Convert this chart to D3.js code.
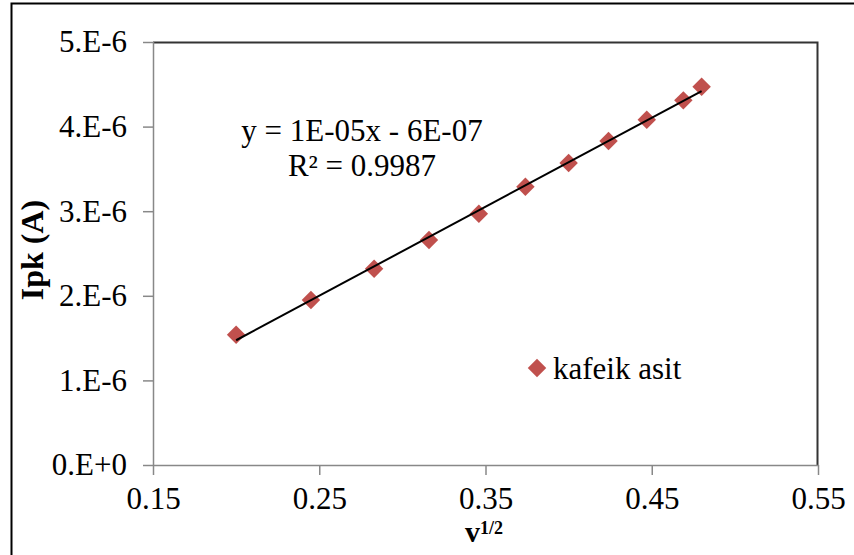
<!DOCTYPE html>
<html>
<head>
<meta charset="utf-8">
<script src="https://cdn.jsdelivr.net/npm/d3@7"></script>
<style>
  body { margin: 0; background: #fff; }
</style>
</head>
<body>
<div id="chart-wrap"></div>
<script>
// data
var xValues = [0.200, 0.245, 0.283, 0.316, 0.346, 0.374, 0.400, 0.424, 0.447, 0.469, 0.480];
var yValues = [1.54e-6, 1.95e-6, 2.32e-6, 2.66e-6, 2.97e-6, 3.29e-6, 3.57e-6, 3.83e-6, 4.08e-6, 4.31e-6, 4.47e-6];
var xTicks = [0.15, 0.25, 0.35, 0.45, 0.55];
var yTicks = [0, 1e-6, 2e-6, 3e-6, 4e-6, 5e-6];
var yTickLabels = ["0.E+0", "1.E-6", "2.E-6", "3.E-6", "4.E-6", "5.E-6"];
var seriesName = "kafeik asit";
var equationLines = ["y = 1E-05x - 6E-07", "R\u00b2 = 0.9987"];

var serif = "'Liberation Serif'";

var width = 854, height = 555;
var margin = { top: 42, right: 36, bottom: 90, left: 153 };
var w = width - margin.left - margin.right,
    h = height - margin.top - margin.bottom;

var x = d3.scaleLinear().domain([0.15, 0.55]).range([0, w]);
var y = d3.scaleLinear().domain([0, 5e-6]).range([h, 0]);

var svg = d3.select("#chart-wrap")
  .append("svg")
  .attr("width", width)
  .attr("height", height);

// outer chart border
svg.append("path")
  .attr("d", "M11.5," + height + "V3.5H" + width)
  .attr("fill", "none")
  .attr("stroke", "#000")
  .attr("stroke-width", 2);

var g = svg.append("g")
  .attr("transform", "translate(" + margin.left + "," + margin.top + ")");

// plot area border top/right
g.append("path")
  .attr("d", "M0,0.5H" + (w - 0.5) + "V" + h)
  .attr("fill", "none")
  .attr("stroke", "#333")
  .attr("stroke-width", 2);

var yAxis = d3.axisLeft(y)
  .tickValues(yTicks)
  .tickSize(10)
  .tickPadding(16)
  .tickFormat(function(d, i) { return yTickLabels[i]; });

var xAxis = d3.axisBottom(x)
  .tickValues(xTicks)
  .tickSize(10)
  .tickPadding(14)
  .tickFormat(d3.format(".2f"));

g.append("g")
  .attr("class", "axis axis--y")
  .call(yAxis);

g.append("g")
  .attr("class", "axis axis--x")
  .attr("transform", "translate(0," + h + ")")
  .call(xAxis);

g.selectAll(".axis path, .axis line")
  .attr("stroke", "#888")
  .attr("stroke-width", 1.5);
g.selectAll(".axis path").attr("d", function() {
  return d3.select(this.parentNode).classed("axis--y")
    ? "M0.5,0V" + h
    : "M0,0.5H" + w;
});
g.selectAll(".axis text")
  .style("font-family", serif)
  .style("font-size", "31px")
  .attr("fill", "#000");
g.selectAll(".axis--x text").attr("dy", "0.66em");

// linear trendline (least squares)
var mx = d3.mean(xValues), my = d3.mean(yValues);
var sxy = d3.sum(xValues, function(d, i) { return (d - mx) * (yValues[i] - my); }),
    sxx = d3.sum(xValues, function(d) { return (d - mx) * (d - mx); });
var slope = sxy / sxx, intercept = my - slope * mx;
var xExt = d3.extent(xValues);

var line = d3.line()
  .x(function(d) { return x(d); })
  .y(function(d) { return y(slope * d + intercept); });

var points = xValues.map(function(d, i) { return [d, yValues[i]]; });

var diamond = d3.symbol().type(d3.symbolSquare).size(170);

g.selectAll(".pt")
  .data(points)
  .enter()
  .append("path")
  .attr("class", "pt")
  .attr("d", diamond)
  .attr("transform", function(d) { return "translate(" + x(d[0]) + "," + y(d[1]) + ") rotate(45)"; })
  .attr("fill", "#c0504d");

g.append("path")
  .datum(xExt)
  .attr("d", line)
  .attr("fill", "none")
  .attr("stroke", "#000")
  .attr("stroke-width", 2);

// equation
g.selectAll(".eq")
  .data(equationLines)
  .enter()
  .append("text")
  .attr("class", "eq")
  .attr("x", 362 - margin.left)
  .attr("y", function(d, i) { return 141 - margin.top + i * 35; })
  .attr("text-anchor", "middle")
  .style("font-family", serif)
  .style("font-size", "31px")
  .text(function(d) { return d; });

// legend
var legend = g.append("g")
  .attr("transform", "translate(" + (537 - margin.left) + "," + (368 - margin.top) + ")");
legend.append("path")
  .attr("d", diamond)
  .attr("transform", "rotate(45)")
  .attr("fill", "#c0504d");
legend.append("text")
  .attr("x", 16)
  .attr("dy", "0.35em")
  .style("font-family", serif)
  .style("font-size", "31px")
  .text(seriesName);

// axis titles
svg.append("text")
  .attr("transform", "translate(43,250) rotate(-90)")
  .attr("text-anchor", "middle")
  .style("font-family", serif)
  .style("font-size", "32px")
  .style("font-weight", "bold")
  .text("Ipk (A)");

var xt = svg.append("text")
  .attr("x", 484)
  .attr("y", 542)
  .attr("text-anchor", "middle")
  .style("font-family", serif)
  .style("font-size", "30px")
  .style("font-weight", "bold");
xt.append("tspan").text("v");
xt.append("tspan")
  .attr("dy", -8)
  .style("font-size", "18px")
  .text("1/2");
</script>
</body>
</html>
